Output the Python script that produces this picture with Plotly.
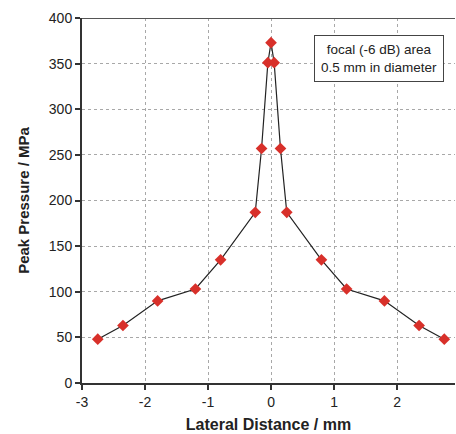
import plotly.graph_objects as go

lateral_mm = [-2.75, -2.35, -1.8, -1.2, -0.8, -0.25, -0.15, -0.05, 0.0,
              0.05, 0.15, 0.25, 0.8, 1.2, 1.8, 2.35, 2.75]
pressure_mpa = [48, 63, 90, 103, 135, 187, 257, 351, 373,
                351, 257, 187, 135, 103, 90, 63, 48]
x_ticks = [-3, -2, -1, 0, 1, 2]
y_ticks = [0, 50, 100, 150, 200, 250, 300, 350, 400]

FONT = "Liberation Sans, Arial, sans-serif"

fig = go.Figure()
fig.add_trace(go.Scatter(
    x=lateral_mm, y=pressure_mpa, mode="lines+markers",
    line=dict(color="#222222", width=1.2),
    marker=dict(symbol="diamond", size=9, color="#d8302a",
                line=dict(color="#d8302a", width=0)),
    showlegend=False,
))

fig.update_layout(
    width=456, height=434,
    margin=dict(l=82, r=1, t=18, b=51),
    paper_bgcolor="white", plot_bgcolor="white",
    font=dict(family=FONT, size=14, color="#222222"),
    xaxis=dict(
        range=[-3, 2.92], tickvals=x_ticks, ticktext=[str(v) for v in x_ticks],
        showgrid=True, gridcolor="#a8a8a8", griddash="dot", gridwidth=1,
        zeroline=False, showline=True, linecolor="#333333", linewidth=2,
        ticks="outside", ticklen=5, tickcolor="#333333", tickwidth=1.5,
        title=dict(text="<b>Lateral Distance / mm</b>", font=dict(size=16), standoff=10),
    ),
    yaxis=dict(
        range=[0, 400], tickvals=y_ticks,
        showgrid=True, gridcolor="#a8a8a8", griddash="dot", gridwidth=1,
        zeroline=False, showline=True, linecolor="#333333", linewidth=2,
        ticks="outside", ticklen=5, tickcolor="#333333", tickwidth=1.5,
        title=dict(text="<b>Peak Pressure / MPa</b>", font=dict(size=15), standoff=16),
    ),
    shapes=[dict(type="line", xref="paper", yref="y", x0=0, x1=1, y0=400, y1=400,
                 line=dict(color="#555555", width=2))],
    annotations=[dict(
        x=1.71, y=356, xref="x", yref="y", xanchor="center", yanchor="middle",
        text="focal (-6 dB) area<br>0.5 mm in diameter", showarrow=False,
        font=dict(size=13.5, color="#222222"), align="center",
        bordercolor="#444444", borderwidth=1, borderpad=6, bgcolor="white",
    )],
)

fig.write_html(
    "out.html",
    config={"displayModeBar": False},
    post_script="document.body.style.margin='0px';document.body.style.overflow='hidden';",
)
